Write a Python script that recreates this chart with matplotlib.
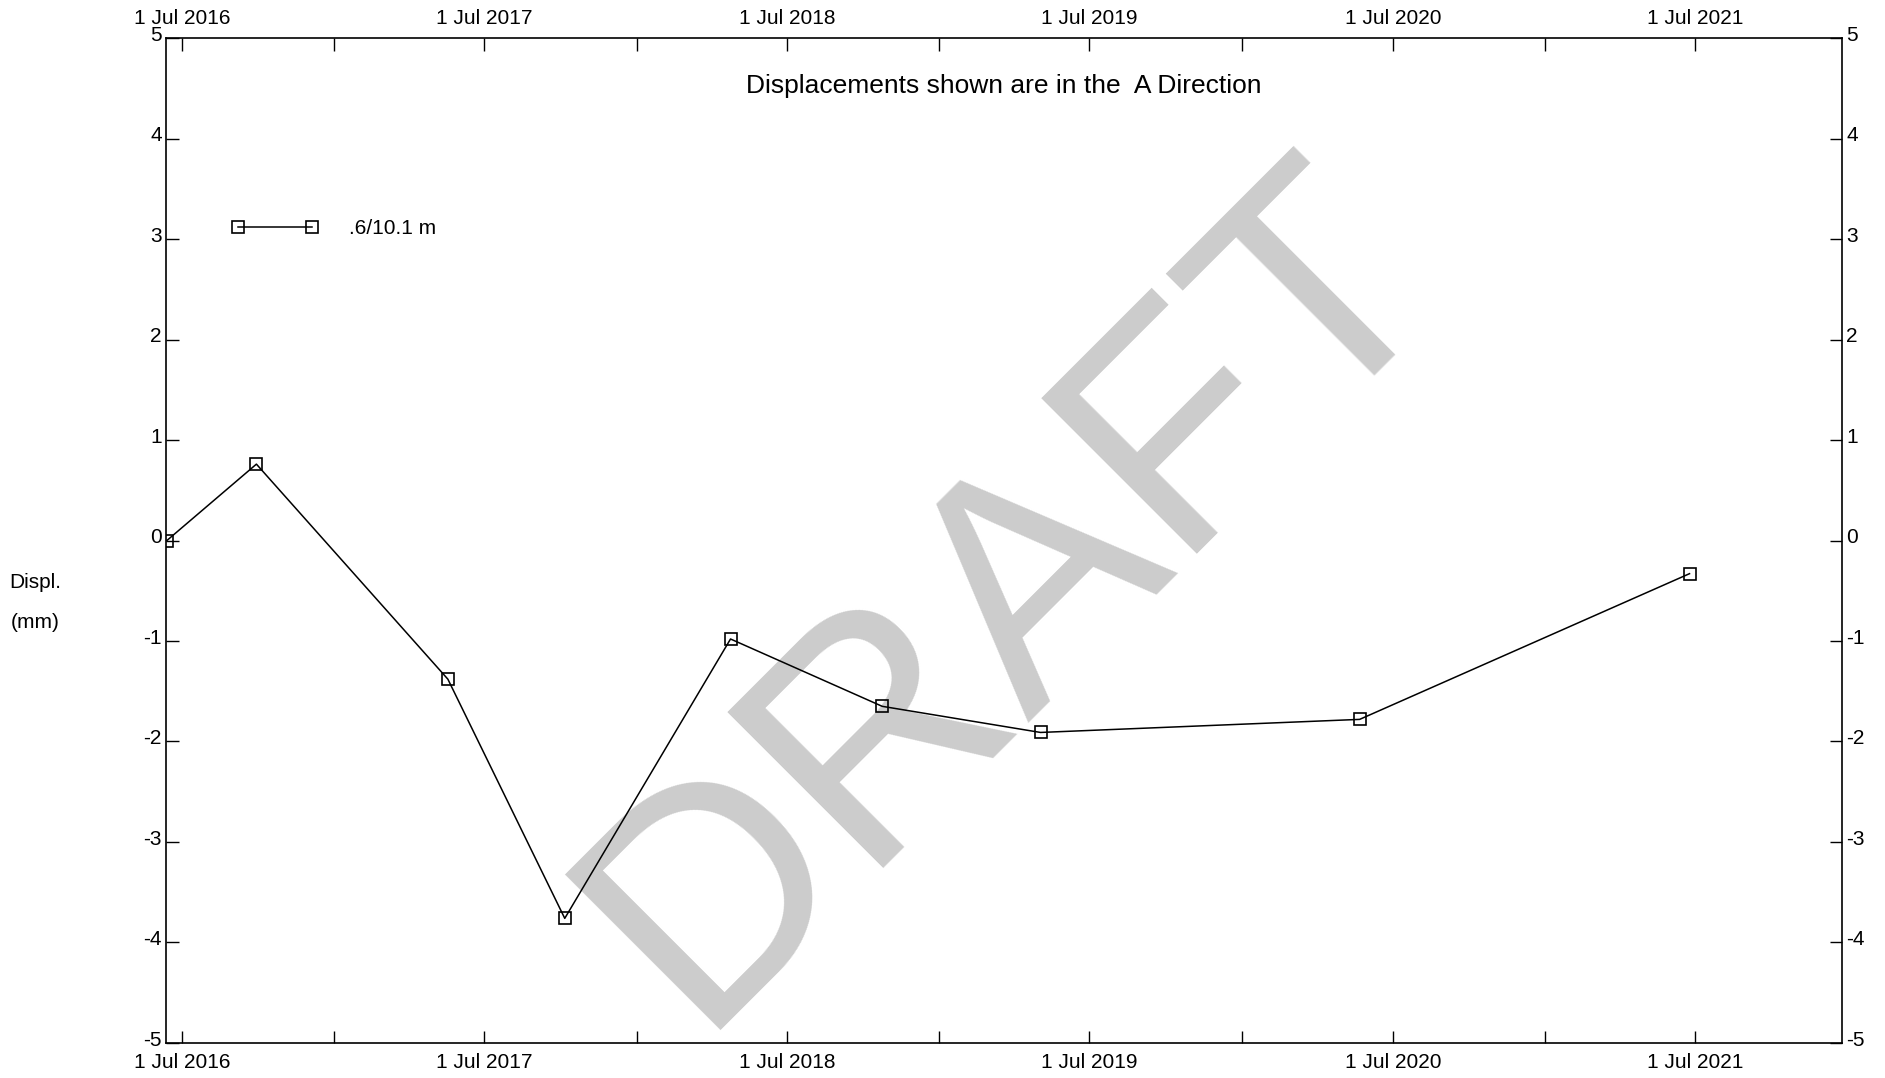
import pandas as pd
import matplotlib
matplotlib.use("Agg")
import matplotlib.pyplot as plt
import matplotlib.dates as mdates
import matplotlib.transforms as mtransforms
from matplotlib.ticker import FuncFormatter, MultipleLocator

# readings of the .6/10.1 m sensor
dates = ["2016-06-13", "2016-09-29", "2017-05-18", "2017-10-06", "2018-04-24",
         "2018-10-24", "2019-05-03", "2020-05-22", "2021-06-24"]
displ = [0.0, 0.76, -1.38, -3.76, -0.98, -1.65, -1.91, -1.78, -0.33]
series_label = ".6/10.1 m"
title = "Displacements shown are in the  A Direction"

plt.rcParams["font.family"] = ["Liberation Sans", "DejaVu Sans"]
plt.rcParams["axes.unicode_minus"] = False

dates = pd.to_datetime(dates)

fig = plt.figure(figsize=(18.85, 10.78), dpi=100)
ax = fig.add_axes([0.0881, 0.0325, 0.8891, 0.9322])

# watermark behind the data
ax.text(0.505, 0.446, "DRAFT", transform=ax.transAxes, rotation=45,
        fontsize=230, color="#cccccc", ha="center", va="center", zorder=0)

ax.plot(dates, displ, color="black", lw=1.1, marker="s", ms=8.5,
        mfc="none", mec="black", mew=1.2, label=series_label, zorder=3)

ax.set_xlim(pd.Timestamp("2016-06-12"), pd.Timestamp("2021-12-25"))
ax.set_ylim(-5, 5)

ax.xaxis.set_major_locator(mdates.MonthLocator(bymonth=7, bymonthday=1))
ax.xaxis.set_minor_locator(mdates.MonthLocator(bymonth=1, bymonthday=1))
ax.xaxis.set_major_formatter(FuncFormatter(
    lambda x, pos: "{} {}".format(mdates.num2date(x).day, mdates.num2date(x).strftime("%b %Y"))))
ax.yaxis.set_major_locator(MultipleLocator(1))

ax.tick_params(axis="both", which="both", direction="in", length=9, width=1,
               labelsize=15, top=True, right=True, labeltop=True, labelright=True)
ax.tick_params(axis="x", which="major", pad=7)
ax.tick_params(axis="y", which="major", pad=3)
for sp in ax.spines.values():
    sp.set_linewidth(1.2)

# y labels sit a little above their ticks
lift = mtransforms.ScaledTranslation(0, 3.5 / 72, fig.dpi_scale_trans)
for t in ax.yaxis.get_major_ticks():
    t.label1.set_transform(t.label1.get_transform() + lift)
    t.label2.set_transform(t.label2.get_transform() + lift)

ax.text(0.5, 0.952, title, transform=ax.transAxes, ha="center", va="center", fontsize=19)

fig.text(35 / 1885, 1 - 583 / 1078, "Displ.", ha="center", va="center", fontsize=15)
fig.text(35 / 1885, 1 - 623 / 1078, "(mm)", ha="center", va="center", fontsize=15)

ax.legend(loc="center left", bbox_to_anchor=(0.028, 0.81), frameon=False,
          numpoints=2, handlelength=4.15, handletextpad=1.5, fontsize=15)

fig.savefig("out.png", dpi=100)
